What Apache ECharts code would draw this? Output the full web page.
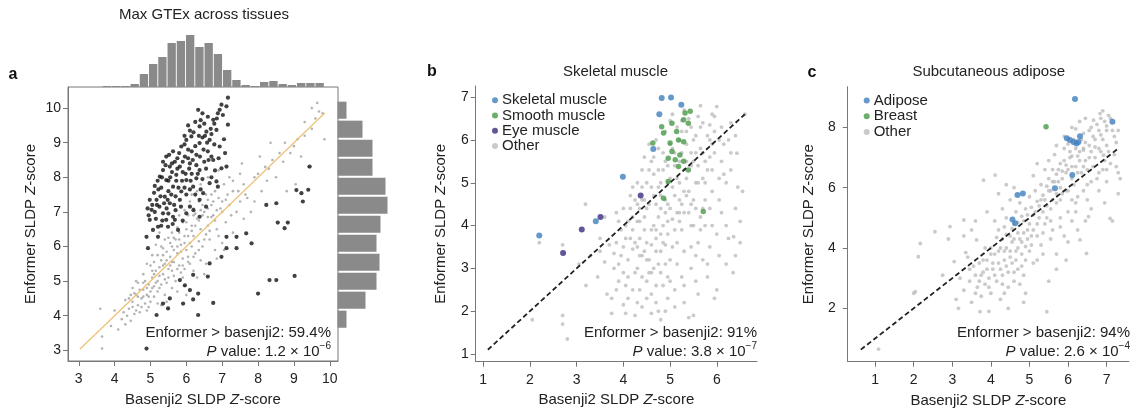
<!DOCTYPE html>
<html>
<head>
<meta charset="utf-8">
<script src="https://cdn.jsdelivr.net/npm/echarts@6/dist/echarts.min.js"></script>
<style>
  html, body { margin: 0; padding: 0; background: #fff; }
  #main { width: 1136px; height: 409px; }
</style>
</head>
<body>
<div id="main"></div>
<script>
// ---- panel a: max GTEx across tissues ----
const aBlack = [
  [7.16,10.3],[7.12,10.05],[6.93,9.95],[7.02,9.8],[6.75,9.66],[7.16,9.52],[6.56,9.32],[6.84,9.37],[6.37,9.47],[6.33,9.95],
  [6.14,9.18],[6.65,9.08],[6.93,8.89],[5.86,8.89],[6.0,9.08],[6.37,8.99],[5.63,8.75],[5.96,8.6],[6.28,8.65],[6.6,8.75],
  [6.75,8.5],[7.12,8.31],[5.44,8.6],[5.54,8.31],[5.82,8.31],[6.1,8.4],[6.37,8.21],[5.72,8.07],[5.35,8.21],[5.44,7.92],
  [6.0,7.92],[6.28,7.97],[6.65,7.83],[6.84,7.88],[5.26,8.02],[5.63,7.73],[5.86,7.59],[6.19,7.73],[6.47,7.54],[6.88,7.73],
  [5.4,7.44],[5.17,7.35],[5.54,7.25],[5.82,7.35],[6.1,7.15],[6.37,7.35],[4.98,7.35],[5.03,7.06],[5.35,6.96],[5.63,6.86],
  [6.0,6.96],[6.37,6.86],[5.44,6.77],[5.21,6.57],[5.07,6.48],[5.49,6.57],[5.77,6.48],[4.98,6.77],
  [6.85,9.7],[6.5,9.55],[6.7,9.25],[6.45,9.15],[6.2,9.3],[6.05,8.8],[6.25,8.9],[6.5,8.45],[6.8,8.2],[5.75,8.55],
  [5.6,8.4],[5.9,8.15],[6.15,8.1],[6.45,7.95],[5.3,7.7],[5.5,7.6],[5.7,7.45],[6.0,7.5],[5.25,7.15],[5.45,7.1],
  [5.7,7.05],[5.9,6.75],[5.15,6.8],[5.3,6.6],[6.2,7.05],[6.55,7.15],[5.1,7.55],[5.35,8.45],[5.55,8.0],[6.05,9.5],
  [6.6,9.75],[5.95,9.2],[5.5,7.9],[6.7,8.0],[5.2,7.9],
  [5.05,7.2],[5.12,7.0],[5.28,7.45],[5.38,7.25],[5.48,7.35],[5.58,7.5],[5.66,7.2],[5.78,7.7],[5.88,7.9],[5.98,8.1],
  [6.08,8.25],[6.18,8.5],[6.28,8.35],[6.38,8.6],[6.48,8.8],[6.58,9.0],[6.68,9.4],[6.78,9.55],[6.88,9.85],[6.98,10.1],
  [6.45,9.85],[6.25,9.6],[6.1,9.35],[5.95,8.95],[5.8,8.7],[5.68,8.45],[5.52,8.65],[5.42,8.35],[5.32,8.0],[5.22,7.65],
  [5.12,7.75],[5.6,8.15],[5.72,7.9],[5.95,7.7],[6.12,7.9],[6.32,8.1],[6.55,8.25],[6.7,8.6],[6.9,8.55],[7.05,9.1],
  [7.08,8.7],[6.62,8.5],[6.4,7.65],[6.25,7.5],[6.1,7.65],[5.85,7.15],[5.62,6.65],[5.5,6.95],[5.33,6.75],[5.18,7.2],
  [4.95,6.9],[4.92,7.1],[6.78,8.95],[6.52,9.2],[6.35,9.2],[6.15,8.75],[5.9,8.45],[5.75,8.25],[6.05,8.55],[6.4,9.65],
  [4.89,6.28],[4.93,5.95],[5.21,6.28],[5.68,6.77],[7.12,6.28],[7.12,5.95],[7.4,6.28],[7.67,6.38],[7.82,6.09],[7.4,5.95],
  [6.65,5.51],[6.98,5.7],[6.6,5.13],[6.19,5.18],[5.96,4.88],[6.1,4.74],[6.33,4.64],[5.82,5.03],[5.54,4.5],[5.35,4.35],
  [5.49,4.21],[5.91,4.35],[6.19,4.47],[6.75,4.37],[6.33,4.02],[5.17,4.02],[4.89,3.05],[8.0,4.64],[8.32,5.03],[8.51,5.03],
  [9.02,5.15],[8.23,7.2],[8.51,7.25],[9.07,7.63],[9.21,7.54],[9.25,7.3],[9.4,7.64],[8.55,6.69],[8.83,6.69],[8.74,6.53],
  [9.44,8.31],[6.98,8.26]
];
const aGrey = [
  [3.6,4.2],[3.65,3.4],[3.65,3.05],[4.0,4.15],[4.2,3.9],[4.3,3.75],[4.45,3.85],[4.4,4.5],[4.5,4.4],[4.55,4.05],
  [4.6,4.6],[4.65,4.3],[4.7,4.1],[4.75,4.5],[4.8,4.75],[4.85,4.35],[4.9,4.6],[4.95,4.9],[5.0,4.4],[5.0,4.7],
  [5.05,5.1],[5.1,4.55],[5.1,4.85],[5.15,5.3],[5.2,4.7],[5.2,5.0],[5.25,5.4],[5.3,4.9],[5.3,5.6],[5.35,5.2],
  [5.4,5.5],[5.4,4.6],[5.45,5.85],[5.5,5.1],[5.5,5.35],[5.55,5.7],[5.6,6.0],[5.6,5.3],[5.65,5.55],[5.7,6.2],
  [5.7,5.0],[5.75,5.8],[5.8,6.4],[5.8,5.45],[5.85,6.05],[5.9,5.65],[5.9,6.7],[5.95,6.3],[6.0,5.9],[6.0,6.5],
  [6.05,6.9],[6.1,6.1],[6.1,5.5],[6.15,6.6],[6.2,7.1],[6.2,6.3],[6.25,5.8],[6.3,6.8],[6.35,7.3],[6.4,6.5],
  [6.45,6.0],[6.5,7.0],[6.55,7.5],[6.6,6.6],[6.65,6.2],[6.7,7.2],[6.75,6.9],[6.8,7.6],[6.85,6.5],[6.9,7.4],
  [7.0,7.0],[7.05,7.8],[7.1,6.7],[7.2,7.2],[7.3,7.6],[7.4,7.0],[7.5,7.3],[7.6,7.8],[7.7,7.4],[7.8,7.0],
  [7.9,8.0],[8.0,8.1],[8.1,7.6],[8.2,8.3],[8.25,7.9],[8.35,9.0],[8.4,8.5],[8.5,8.0],[8.6,8.7],[8.7,8.45],
  [8.8,7.6],[8.9,8.7],[9.0,8.9],[9.05,7.8],[9.1,9.1],[9.2,8.6],[9.3,9.2],[9.4,8.3],[9.5,9.4],[9.6,9.7],
  [9.65,10.15],[9.7,9.9],[9.8,9.85],[9.85,9.1],[9.5,10.0],
  [5.8,6.9],[6.1,7.3],[6.3,7.6],[6.6,8.0],[6.9,8.2],[7.0,7.3],[6.4,7.8],[6.7,7.5],[7.2,8.0],[7.5,8.1],[7.3,7.9],
  [5.3,4.3],[5.6,4.8],[5.9,5.1],[6.2,5.3],[6.4,5.6],[6.5,5.2],[6.8,5.9],[7.0,6.1],[7.3,6.4],[7.6,6.8],
  [6.0,4.6],[5.5,4.2],[4.9,4.15],[5.2,4.35],[4.7,4.75],[4.5,4.8],[4.3,4.45],[4.6,5.0],[4.8,5.2],[5.0,5.45],
  [5.2,5.75],[5.3,6.0],[5.4,6.2],[5.6,6.4],[5.15,6.05],[5.05,5.75],[4.9,5.5],[5.25,6.4],
  [4.95,4.25],[5.45,4.95],[5.65,5.15],[5.75,6.55],[5.95,5.35],[6.05,5.7],[6.25,6.95],[6.35,6.15],[6.55,6.35],[6.7,6.85],
  [6.9,6.3],[7.15,7.5],[5.55,6.1],[5.35,5.75],[4.85,5.0],[4.65,4.55],[4.4,4.2],[5.1,5.55],[6.15,6.0],[5.85,5.25],
  [7.55,8.4],[7.9,7.3],[8.3,8.25],[8.75,9.0],[9.3,9.6],[8.05,8.6],[4.55,4.65],[4.25,4.1],[3.9,3.7],[4.1,3.6],
  [4.6,4.15],[4.75,4.25],[4.8,4.55],[4.95,4.55],[5.05,4.8],[5.15,4.95],[5.25,5.15],[5.35,5.45],[5.45,5.6],[5.55,5.45],
  [5.65,5.9],[5.75,6.0],[5.85,5.85],[5.95,6.1],[6.05,6.3],[6.15,6.45],[6.25,6.6],[6.35,6.75],[6.45,6.9],[6.6,7.1],
  [6.75,7.3],[5.1,5.2],[5.25,4.8],[5.4,5.05],[5.6,5.55],[5.75,5.35],[5.9,5.45],[6.05,5.55],[6.2,5.7],[6.35,5.9],
  [6.5,6.2],[6.65,6.45],[6.8,6.75],[4.5,4.25],[4.65,4.95],[4.8,4.95],[4.45,4.6],[4.35,4.0],[4.9,4.8],[5.05,5.3],
  [5.35,5.95],[5.5,6.25],[5.65,6.25],[5.8,6.2],[6.0,6.7],[6.2,6.9],[6.45,7.2],[6.6,7.35],[6.95,7.1],[7.1,7.35],
  [5.95,7.05],[6.15,7.5],[6.4,7.05],[6.6,6.85],[6.85,7.05],[7.25,6.9],[7.45,7.6],[7.65,7.5],[5.45,4.4],[5.75,4.7],
  [5.95,4.85],[6.3,5.1],[6.55,5.5],[6.85,5.65],[7.05,5.9]
];
const aDiag = [[3.03,3.03],[9.86,9.86]];
const aTicksX = [3,4,5,6,7,8,9,10];
const aTicksY = [3,4,5,6,7,8,9,10];
// marginal histograms (counts per bin)
const topHistCounts = [1,1,1,3,13,23,30,44,46,52,40,44,33,17,7,2,1,5,6,3,2,4,4,4];
const rightHistCounts = [9,25,35,35,48,50,43,39,42,39,28,9]; // top to bottom

// ---- panel b: skeletal muscle ----
const bSkeletal = [[4.82,6.98],[5.02,6.99],[5.24,6.82],[4.77,6.6],[4.64,5.79],[3.99,5.14],[3.41,4.1],[2.2,3.77]];
const bEye = [[4.37,4.7],[3.51,4.2],[3.11,3.91],[2.71,3.36]];
const bSmooth = [
  [5.32,6.63],[5.29,6.47],[5.04,6.39],[5.39,6.39],[4.82,6.31],[5.14,6.2],[4.86,6.16],[5.29,5.96],[5.0,5.93],[5.18,6.0],
  [4.63,5.93],[5.04,5.73],[5.21,5.65],[4.96,5.57],[5.11,5.54],[5.29,5.5],[5.18,5.38],[5.39,5.3],[4.96,5.03],[4.86,4.64],
  [5.71,4.33],[5.43,6.67]
];
const bOther = [
  [2.05,1.8],[2.7,1.9],[2.7,1.7],[2.8,1.35],[2.7,3.55],[3.19,4.5],[2.2,3.6],[5.5,1.9],[6.0,2.5],
  [3.3,3.3],[3.45,2.8],[3.5,3.7],[3.6,3.15],[3.65,2.4],[3.7,3.55],
  [3.75,2.3],[3.8,3.0],[3.85,3.6],[3.9,2.7],[3.95,3.9],[3.8,3.35],[4.0,2.15],[3.9,4.1],[3.75,1.95],
  [4.05,2.6],[4.1,3.2],[4.15,3.7],[4.2,4.2],[4.05,4.0],[4.25,2.9],[4.1,2.3],[4.2,3.45],[4.3,4.5],[4.25,1.9],
  [4.15,4.7],[4.0,3.5],[4.3,3.0],
  [4.35,2.5],[4.4,3.3],[4.45,3.9],[4.5,4.4],[4.35,4.1],[4.55,2.9],[4.4,2.1],[4.5,3.6],[4.6,4.9],[4.45,4.6],
  [4.35,3.7],[4.55,3.2],[4.6,2.4],[4.5,5.0],[4.4,5.3],
  [4.65,3.0],[4.7,3.7],[4.75,4.2],[4.8,4.7],[4.65,5.2],[4.85,2.6],[4.7,2.2],[4.8,3.4],[4.9,5.5],[4.75,5.8],
  [4.85,4.0],[4.7,4.5],[4.9,6.2],[4.65,4.0],[4.8,5.0],[4.9,3.1],[4.75,2.0],
  [4.95,3.8],[5.0,4.4],[5.05,4.9],[5.1,5.4],[5.0,5.9],[5.15,6.3],[5.2,4.1],[5.0,3.2],[5.1,2.5],[5.15,3.6],
  [5.05,6.6],[5.2,5.0],[4.95,2.3],[5.1,5.7],[5.2,6.0],
  [5.25,4.5],[5.3,5.3],[5.35,5.9],[5.4,6.5],[5.3,3.4],[5.45,4.0],[5.25,2.8],[5.4,4.8],[5.5,5.5],[5.35,6.2],
  [5.45,3.0],[5.3,6.7],
  [5.55,4.4],[5.6,5.0],[5.65,5.8],[5.7,6.4],[5.6,3.6],[5.75,4.6],[5.55,6.1],[5.7,3.2],[5.8,5.3],[5.65,6.8],
  [5.8,2.8],[5.75,4.0],
  [5.85,5.6],[5.9,4.8],[5.95,6.2],[6.0,3.8],[6.05,5.1],[5.9,6.6],[6.1,4.3],[6.05,6.0],[6.0,6.78],
  [6.2,5.0],[6.25,3.7],[6.3,5.7],[6.4,4.4],[6.5,3.6],[6.43,5.69],[6.36,3.74],[6.3,6.4],[6.2,4.0],[6.45,4.9],
  [4.2,4.9],[4.0,4.4],[3.85,4.3],[4.45,5.6],[4.6,5.5],[4.3,5.0],[4.55,5.9],[4.85,5.3],[4.95,5.0],[5.25,5.7],
  [5.45,5.4],[5.35,4.7],[4.7,6.0],[5.0,6.45],[5.25,6.45],[5.5,6.0],[5.6,6.55],[5.85,6.35],[5.2,4.3],[4.9,4.3],
  [5.45,4.5],[5.7,5.1],[5.9,5.9],[6.1,5.5],[6.25,6.0],[3.6,4.2],[3.5,3.4],[3.95,3.3],[4.1,4.1],[4.35,4.4],
  [4.6,3.55],[4.8,3.8],[5.05,4.15],[4.75,3.1],[4.5,2.7],[4.3,2.2],[4.05,1.95],[4.95,2.8],[5.3,2.2],[5.6,2.4],
  [5.55,3.3],[5.85,3.5],[5.4,1.85],[4.8,1.8],[3.2,2.6],[3.05,3.1],
  [4.2,3.9],[4.25,3.6],[4.3,4.1],[4.35,3.3],[4.4,4.6],[4.45,4.2],[4.5,3.2],[4.55,4.5],[4.6,3.9],[4.65,4.7],
  [4.7,3.4],[4.75,4.9],[4.8,4.4],[4.85,3.6],[4.9,4.6],[4.95,4.1],[5.0,5.1],[5.05,3.5],[5.1,4.7],[5.15,4.3],
  [5.2,5.5],[5.25,3.9],[5.3,4.8],[5.35,5.1],[5.4,4.3],[5.45,5.7],[5.5,4.6],[5.55,5.0],[5.6,5.4],[5.65,4.2],
  [5.7,5.7],[5.75,5.0],[5.8,6.1],[5.85,4.4],[5.9,5.3],[5.95,5.7],[6.05,4.6],[6.1,6.3],[6.15,5.2],[4.1,2.8],
  [4.2,2.5],[4.3,3.5],[4.4,2.8],[4.5,2.3],[4.6,2.9],[4.7,2.6],[4.8,2.9],[4.9,2.0],[5.0,2.7],[5.15,3.1],
  [5.3,2.6],[5.45,3.5],[5.55,2.7],[5.65,3.9],[5.8,3.1],[5.9,4.0],[6.05,3.3],[3.9,3.1],[3.85,2.5],[4.0,2.9],
  [4.05,3.7],[4.15,4.4],[4.25,4.6],[4.4,4.9],[4.55,5.3],[4.65,5.6],[4.75,5.3],[4.85,5.7],[4.95,5.4],[5.05,5.8],
  [5.15,5.1],[5.25,6.2],[5.35,5.5],[5.45,6.3],[5.55,5.7],[5.65,6.3],[5.75,5.5],[5.85,6.0],[5.95,6.55],[6.15,5.9],
  [6.3,5.3],[6.4,6.1],[6.55,4.8],[6.6,6.6],[6.4,3.3],[6.2,3.1],[6.5,4.1],[6.35,2.9],[5.95,2.3],[5.1,2.1],
  [4.6,1.95],[4.45,3.4],[4.7,3.9],[4.9,3.55],[5.1,3.9],[5.3,4.3],[5.5,4.0],[5.7,4.4],[5.2,4.6],[4.95,4.5]
];
const bDiag = [[1.1,1.1],[6.6,6.6]];
const bTicksX = [1,2,3,4,5,6];
const bTicksY = [1,2,3,4,5,6,7];

// ---- panel c: subcutaneous adipose ----
const cAdipose = [
  [6.18,8.94],[7.15,8.19],[5.97,7.64],[6.05,7.58],[6.14,7.52],[6.22,7.47],[6.31,7.71],[6.27,7.52],[6.11,6.42],[5.66,5.98],
  [4.83,5.81],[4.69,5.76],[4.56,4.95],[4.63,4.82]
];
const cBreast = [[5.43,8.02]];
const cOther = [
  [1.09,0.65],[2.17,4.15],[2.12,3.71],[2.55,4.54],[2.94,4.71],[3.3,4.93],[3.63,4.27],[3.81,6.25],[4.11,6.42],[2.04,2.55],
  [3.16,2.0],[3.72,1.89],[5.45,1.89],[6.48,3.82],[6.31,4.27],[7.09,4.98],[6.53,5.04],[6.92,7.08],[7.05,8.4],[6.83,8.46],
  [6.66,8.24],[2.0,2.5],
  [3.2,3.0],[3.3,2.6],[3.45,3.3],[3.5,2.2],[3.6,3.1],[3.65,2.7],[3.7,3.5],[3.75,2.4],[3.8,3.2],[3.85,2.8],
  [3.9,3.6],[3.95,3.0],[4.0,2.5],[4.05,3.3],[4.1,3.8],[4.15,2.9],[4.2,3.5],[4.25,2.3],[4.3,3.1],[4.35,3.9],
  [4.4,3.4],[4.45,2.7],[4.5,3.7],[4.55,4.2],[3.4,3.7],[3.1,2.3],[4.6,3.2],[4.0,4.0],[4.3,4.3],[4.65,3.6],
  [4.7,4.0],[4.75,2.8],[4.8,3.4],[4.85,2.2],
  [4.35,4.7],[4.4,5.0],[4.5,4.4],[4.6,4.8],[4.65,5.2],[4.7,4.5],[4.75,5.5],[4.8,4.2],[4.85,4.9],[4.9,5.3],
  [4.95,4.6],[5.0,5.7],[5.05,4.4],[5.1,5.1],[5.15,5.9],[5.2,4.8],[5.25,5.4],[5.3,6.1],[5.35,4.5],[5.4,5.6],
  [5.45,5.0],[5.5,6.3],[4.5,5.6],[4.3,5.3],[4.2,4.6],[4.1,4.9],[5.0,3.9],[5.3,4.1],[5.6,4.6],[5.2,3.6],
  [4.9,4.05],[5.55,5.3],[5.1,6.4],[4.6,6.0],[4.2,5.8],[3.9,5.2],[3.6,4.9],[5.7,3.8],[5.9,4.4],[6.1,4.9],[5.8,5.0],
  [5.55,5.9],[5.6,6.6],[5.65,7.1],[5.7,5.5],[5.75,6.2],[5.8,6.8],[5.85,5.8],[5.9,7.3],[5.95,6.5],[6.0,5.9],
  [6.05,7.0],[6.1,6.3],[6.15,7.6],[6.2,6.7],[6.25,5.7],[6.3,7.2],[6.35,6.5],[6.4,7.8],[6.45,6.9],[6.5,6.1],
  [6.55,7.4],[6.6,8.0],[6.65,6.7],[6.7,7.6],[6.75,6.3],[6.8,7.9],[6.85,7.2],[6.9,6.6],[6.95,8.2],[7.0,7.4],
  [7.1,6.8],[7.15,7.9],[7.2,7.1],[7.3,6.5],[6.3,8.2],[6.1,8.0],[5.9,7.7],[5.7,7.4],[5.5,6.9],[6.5,5.6],
  [6.8,5.9],[7.0,6.2],[7.3,5.8],[5.4,6.6],[6.6,5.3],[6.2,5.2],[7.15,4.9],[6.95,5.5],[7.25,7.5],[6.9,8.55],
  [6.45,8.3],[6.2,7.95],[6.0,7.45],[6.4,7.3],[5.8,6.0],[6.1,5.6],
  [2.9,4.3],[3.3,4.4],[3.5,4.6],[4.4,6.1],[5.2,6.8],[6.0,4.2],[5.5,2.9],[4.9,2.5],[3.95,1.9],[4.45,2.0],
  [3.55,3.4],[3.7,2.9],[3.8,3.6],[3.9,3.3],[3.95,2.7],[4.05,3.5],[4.1,3.1],[4.2,3.9],[4.25,3.3],[4.3,2.8],
  [4.35,3.6],[4.4,4.0],[4.45,3.2],[4.5,3.9],[4.55,3.5],[4.6,4.3],[4.65,3.9],[4.7,3.3],[4.75,4.3],[4.8,3.8],
  [4.85,4.5],[4.9,3.6],[4.95,4.3],[5.0,4.8],[5.05,4.1],[5.1,4.6],[5.15,5.2],[5.2,4.4],[5.25,5.0],[5.3,5.6],
  [5.35,5.2],[5.4,4.8],[5.45,5.4],[5.5,5.9],[5.55,4.9],[5.6,5.6],[5.65,6.2],[5.7,5.8],[5.75,6.6],[5.8,5.6],
  [5.85,6.3],[5.9,6.9],[5.95,5.9],[6.0,6.6],[6.05,7.2],[6.1,6.7],[6.15,6.1],[6.2,7.3],[6.25,6.5],[6.3,6.9],
  [6.35,7.6],[6.4,6.7],[6.45,7.5],[6.5,6.6],[6.55,7.9],[6.6,7.2],[6.65,7.7],[6.7,7.0],[6.75,8.1],[6.8,7.3],
  [6.85,8.3],[6.9,7.6],[6.95,6.9],[7.0,7.9],[7.05,7.2],[7.1,8.3],[7.2,7.7],[7.25,6.7],[7.3,7.9],[7.35,6.3],
  [4.4,4.45],[4.55,4.65],[4.7,4.85],[4.8,5.05],[4.95,5.1],[5.05,5.35],[5.2,5.55],[5.35,5.75],[5.45,6.05],[5.6,6.2],
  [5.7,6.45],[5.85,6.55],[5.95,6.75],[6.1,7.05],[6.25,7.05],[6.4,7.25],[6.55,7.0],[6.7,7.35],[6.85,7.75],[7.0,8.05],
  [4.25,4.0],[4.15,4.35],[4.0,3.8],[3.85,4.0],[3.75,3.1],[3.6,2.5],[3.45,2.9],[4.35,2.5],[4.6,2.9],[4.85,3.1],
  [5.1,3.5],[5.35,3.8],[5.55,4.3],[5.8,4.7],[6.0,5.2],[6.2,5.5],[6.4,5.9],[6.6,6.2],[6.8,6.5],[7.0,6.6],
  [6.25,4.6],[6.45,4.9],[5.95,3.6],[5.7,3.3],[3.35,3.85],[3.05,3.55],[2.75,3.1]
];
const cDiag = [[0.63,0.63],[7.3,7.3]];
const cTicksX = [1,2,3,4,5,6,7];
const cTicksY = [2,4,6,8];

const FONT = 'Liberation Sans, Arial, sans-serif';
const TXT = '#222';

const chart = echarts.init(document.getElementById('main'));

function valAxis(grid, min, max, ticks, extra) {
  return Object.assign({
    type: 'value', gridIndex: grid, min: min, max: max,
    splitLine: { show: false },
    axisLine: { show: true, lineStyle: { color: '#777', width: 1 } },
    axisTick: { show: true, length: 5, lineStyle: { color: '#777' }, customValues: ticks },
    axisLabel: { customValues: ticks, color: TXT, fontSize: 14, fontFamily: FONT, margin: 7 }
  }, extra || {});
}
const nameRich = {
  n: { fontSize: 15, fontFamily: FONT, color: TXT },
  i: { fontSize: 15, fontFamily: FONT, color: TXT, fontStyle: 'italic' }
};
const xName = '{n|Basenji2 SLDP }{i|Z}{n|-score}';
const yName = '{n|Enformer SLDP }{i|Z}{n|-score}';

function nameOpts(gap) {
  return { nameLocation: 'middle', nameGap: gap, nameTextStyle: { rich: nameRich } };
}

const xAxes = [
  valAxis(0, 2.7, 10.23, aTicksX, Object.assign({ name: xName }, nameOpts(31))),
  { type: 'category', gridIndex: 1, show: false, data: topHistCounts.map((_, i) => i) },
  { type: 'value', gridIndex: 2, show: false, min: 0, max: 60 },
  valAxis(3, 0.84, 6.86, bTicksX, Object.assign({ name: xName }, nameOpts(31))),
  valAxis(4, 0.29, 7.58, cTicksX, Object.assign({ name: xName }, nameOpts(32)))
];
xAxes[0].axisLabel.margin = 11;
xAxes[3].axisLabel.margin = 11;
xAxes[4].axisLabel.margin = 11;

const yAxes = [
  valAxis(0, 2.69, 10.61, aTicksY, Object.assign({ name: yName }, nameOpts(30))),
  { type: 'value', gridIndex: 1, show: false, min: 0, max: 57 },
  { type: 'category', gridIndex: 2, show: false, inverse: true, data: rightHistCounts.map((_, i) => i) },
  valAxis(3, 0.82, 7.26, bTicksY, Object.assign({ name: yName }, nameOpts(27))),
  valAxis(4, 0.23, 9.35, cTicksY, Object.assign({ name: yName }, nameOpts(31)))
];
yAxes[0].axisLabel.margin = 7;
yAxes[3].axisLabel.margin = 7;
yAxes[4].axisLabel.margin = 12;

function textEl(x, y, text, align, extra) {
  return {
    type: 'text', x: x, y: y, silent: true,
    style: Object.assign({
      text: text, align: align, verticalAlign: 'middle',
      fill: TXT, font: '15px ' + FONT
    }, extra || {})
  };
}
const pRich = {
  i: { fontSize: 15, fontFamily: FONT, fontStyle: 'italic', fill: TXT, lineHeight: 18, verticalAlign: 'bottom' },
  n: { fontSize: 15, fontFamily: FONT, fill: TXT, lineHeight: 18, verticalAlign: 'bottom' },
  s: { fontSize: 10, fontFamily: FONT, fill: TXT, lineHeight: 10, verticalAlign: 'top' }
};
function pText(x, y, val, exp) {
  return textEl(x, y, '{i|P}{n| value: ' + val + ' \u00d7 10}{s|\u2212' + exp + '}', 'right', { rich: pRich });
}

chart.setOption({
  animation: false,
  textStyle: { fontFamily: FONT },
  grid: [
    { left: 68, top: 87, width: 270, height: 274, show: true, borderColor: '#777', borderWidth: 1, outerBoundsMode: 'none' },
    { left: 102.3, top: 30, width: 222, height: 57, outerBoundsMode: 'none' },
    { left: 337.5, top: 100.7, width: 60, height: 228, outerBoundsMode: 'none' },
    { left: 475.7, top: 86, width: 281.3, height: 275.7, outerBoundsMode: 'none' },
    { left: 847.7, top: 86.7, width: 281.3, height: 275, outerBoundsMode: 'none' }
  ],
  xAxis: xAxes,
  yAxis: yAxes,
  legend: [
    {
      data: ['Skeletal muscle', 'Smooth muscle', 'Eye muscle', 'Other'],
      orient: 'vertical', left: 492, top: 92.5, padding: 0, itemGap: 0,
      itemWidth: 6, itemHeight: 6, icon: 'circle', selectedMode: false,
      textStyle: { fontSize: 15, fontFamily: FONT, color: TXT, lineHeight: 15.3, padding: [0, 0, 0, -1] }
    },
    {
      data: ['Adipose', 'Breast', 'Other'],
      orient: 'vertical', left: 863.7, top: 92.5, padding: 0, itemGap: 0,
      itemWidth: 6, itemHeight: 6, icon: 'circle', selectedMode: false,
      textStyle: { fontSize: 15, fontFamily: FONT, color: TXT, lineHeight: 15.8, padding: [0, 0, 0, -1] }
    }
  ],
  graphic: [
    textEl(13, 75, 'a', 'center', { font: 'bold 16px ' + FONT, fill: '#111' }),
    textEl(432, 72, 'b', 'center', { font: 'bold 16px ' + FONT, fill: '#111' }),
    textEl(812, 73, 'c', 'center', { font: 'bold 16px ' + FONT, fill: '#111' }),
    textEl(204, 15, 'Max GTEx across tissues', 'center'),
    textEl(615.5, 72, 'Skeletal muscle', 'center'),
    textEl(988.7, 72, 'Subcutaneous adipose', 'center'),
    textEl(331, 333, 'Enformer > basenji2: 59.4%', 'right'),
    pText(331, 350, '1.2', '6'),
    textEl(757, 333, 'Enformer > basenji2: 91%', 'right'),
    pText(757, 350, '3.8', '7'),
    textEl(1130, 333, 'Enformer > basenji2: 94%', 'right'),
    pText(1130, 350, '2.6', '4')
  ],
  series: [
    // panel a
    { name: 'a other', type: 'scatter', xAxisIndex: 0, yAxisIndex: 0, data: aGrey,
      symbolSize: 2.6, itemStyle: { color: '#a0a0a0' } },
    { name: 'a diagonal', type: 'line', xAxisIndex: 0, yAxisIndex: 0, data: aDiag,
      symbol: 'none', lineStyle: { color: '#efc27a', width: 1.3 } },
    { name: 'a enformer', type: 'scatter', xAxisIndex: 0, yAxisIndex: 0, data: aBlack,
      symbolSize: 4.2, itemStyle: { color: '#111' } },
    { name: 'top hist', type: 'bar', xAxisIndex: 1, yAxisIndex: 1, data: topHistCounts,
      barCategoryGap: '10%', itemStyle: { color: '#8a8a8a' } },
    { name: 'right hist', type: 'bar', xAxisIndex: 2, yAxisIndex: 2, data: rightHistCounts,
      barCategoryGap: '10%', itemStyle: { color: '#8a8a8a' } },
    // panel b
    { name: 'Other', type: 'scatter', xAxisIndex: 3, yAxisIndex: 3, data: bOther,
      symbolSize: 3.8, itemStyle: { color: '#bdbdbd' } },
    { name: 'b diagonal', type: 'line', xAxisIndex: 3, yAxisIndex: 3, data: bDiag,
      symbol: 'none', lineStyle: { color: '#222', width: 1.8, type: [5, 3] } },
    { name: 'Smooth muscle', type: 'scatter', xAxisIndex: 3, yAxisIndex: 3, data: bSmooth,
      symbolSize: 5.5, itemStyle: { color: '#4a9a48' } },
    { name: 'Skeletal muscle', type: 'scatter', xAxisIndex: 3, yAxisIndex: 3, data: bSkeletal,
      symbolSize: 6, itemStyle: { color: '#3f7fbf' } },
    { name: 'Eye muscle', type: 'scatter', xAxisIndex: 3, yAxisIndex: 3, data: bEye,
      symbolSize: 6, itemStyle: { color: '#3b2a80' } },
    // panel c
    { name: 'Other', type: 'scatter', xAxisIndex: 4, yAxisIndex: 4, data: cOther,
      symbolSize: 3.8, itemStyle: { color: '#bdbdbd' } },
    { name: 'c diagonal', type: 'line', xAxisIndex: 4, yAxisIndex: 4, data: cDiag,
      symbol: 'none', lineStyle: { color: '#222', width: 1.8, type: [5, 3] } },
    { name: 'Breast', type: 'scatter', xAxisIndex: 4, yAxisIndex: 4, data: cBreast,
      symbolSize: 5.5, itemStyle: { color: '#4a9a48' } },
    { name: 'Adipose', type: 'scatter', xAxisIndex: 4, yAxisIndex: 4, data: cAdipose,
      symbolSize: 6, itemStyle: { color: '#3f7fbf' } }
  ]
});
</script>
</body>
</html>
